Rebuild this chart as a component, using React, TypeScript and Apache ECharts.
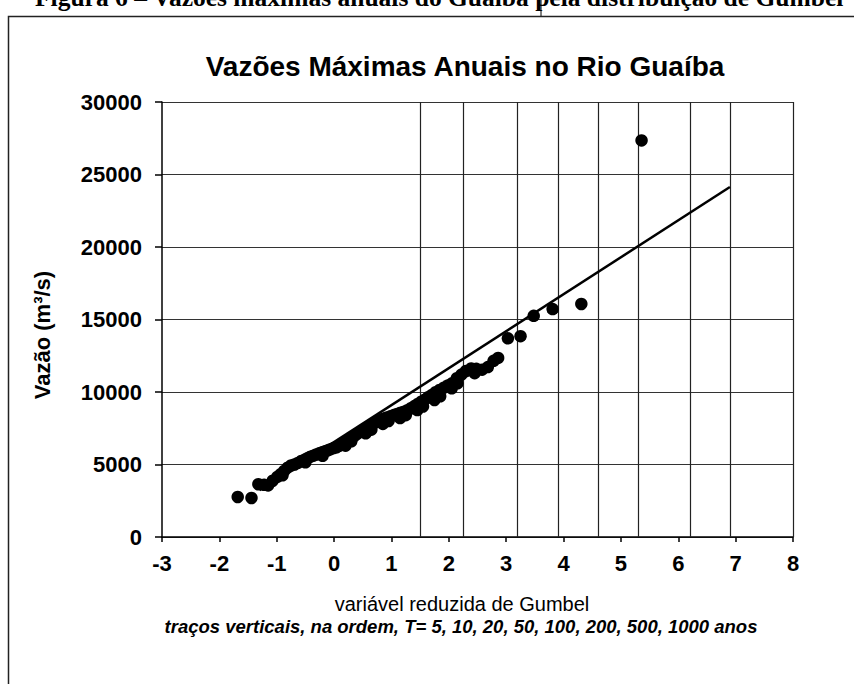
import React, { useEffect, useRef } from "react";
import * as echarts from "echarts";

const captionText = "Figura 6 – Vazões máximas anuais do Guaíba pela distribuição de Gumbel";
const titleText = "Vazões Máximas Anuais no Rio Guaíba";
const yAxisName = "Vazão (m³/s)";
const xAxisName = "variável reduzida de Gumbel";
const noteText = "traços verticais, na ordem, T= 5, 10, 20, 50, 100, 200, 500, 1000 anos";

// Gumbel reduced variate of each observation
const gumbelX = [
  -1.68, -1.44, -1.32, -1.22, -1.15, -1.07, -0.99, -0.93, -0.87, -0.81,
  -0.75, -0.69, -0.63, -0.57, -0.51, -0.46, -0.41, -0.36, -0.31, -0.26,
  -0.21, -0.16, -0.11, -0.06, -0.01, 0.04, 0.09, 0.14, 0.19, 0.24,
  0.29, 0.34, 0.39, 0.44, 0.49, 0.54, 0.59, 0.64, 0.69, 0.74,
  0.8, 0.86, 0.92, 0.98, 1.04, 1.1, 1.16, 1.22, 1.28, 1.34,
  1.4, 1.46, 1.52, 1.58, 1.64, 1.7, 1.77, 1.84, 1.91, 1.98,
  2.06, 2.14, 2.22, 2.3, 2.39, 2.48, 2.58, 2.68, 2.78, 2.86,
  3.03, 3.25, 3.48, 3.81, 4.31, 5.36,
  -0.9, -0.5, -0.2, 0.2, 0.3, 0.55, 0.65, 0.85, 0.95, 1.15,
  1.25, 1.45, 1.55, 1.75, 1.85, 2.05, 2.15, 2.45,
];
// Annual maximum flow (m³/s)
const flowY = [
  2760, 2690, 3640, 3600, 3560, 3880, 4150, 4330, 4560, 4780,
  4930, 5000, 5110, 5240, 5340, 5440, 5540, 5610, 5690, 5770,
  5840, 5910, 5980, 6060, 6130, 6190, 6280, 6420, 6540, 6680,
  6820, 6930, 7080, 7210, 7330, 7460, 7580, 7690, 7830, 7970,
  8060, 8160, 8240, 8320, 8410, 8490, 8570, 8640, 8740, 8880,
  9030, 9180, 9330, 9470, 9640, 9790, 9990, 10140, 10290, 10440,
  10610, 10950, 11200, 11450, 11620, 11600, 11540, 11720, 12150, 12350,
  13700, 13850, 15250, 15720, 16070, 27350,
  4250, 5150, 5600, 6300, 6600, 7150, 7400, 7800, 8000, 8200,
  8400, 8750, 9000, 9450, 9700, 10250, 10600, 11300,
];

// fitted Gumbel line
const fitX = [-1.3, 6.9];
const fitY = [3234, 24136];

// vertical strokes (return periods)
const returnPeriodLines = [1.5, 2.25, 3.2, 3.9, 4.6, 5.3, 6.21, 6.91];
const plotRightEdge = 8;

const SANS = "'Liberation Sans', Arial, Helvetica, sans-serif";
const SERIF = "'Liberation Serif', 'Times New Roman', serif";

export default function App() {
  const ref = useRef<HTMLDivElement>(null);

  useEffect(() => {
    if (!ref.current) return;
    const chart = echarts.init(ref.current, null, { renderer: "svg" });

    const points = gumbelX.map((x, i) => [x, flowY[i]]);
    const fit = fitX.map((x, i) => [x, fitY[i]]);
    const vLines = [...returnPeriodLines, plotRightEdge].map((v) => ({ xAxis: v }));

    chart.setOption({
      animation: false,
      backgroundColor: "#ffffff",
      grid: { left: 162, right: 61, top: 102, bottom: 147, containLabel: false },
      xAxis: {
        type: "value",
        min: -3,
        max: 8,
        interval: 1,
        axisLine: { show: true, onZero: false, lineStyle: { color: "#000", width: 1.5 } },
        axisTick: { show: true, inside: false, length: 5, lineStyle: { color: "#000", width: 1.5 } },
        axisLabel: {
          color: "#000",
          fontFamily: SANS,
          fontWeight: "bold",
          fontSize: 22,
          margin: 15,
          formatter: (v: number) => String(v),
        },
        splitLine: { show: false },
      },
      yAxis: {
        type: "value",
        min: 0,
        max: 30000,
        interval: 5000,
        axisLine: { show: true, onZero: false, lineStyle: { color: "#000", width: 1.5 } },
        axisTick: { show: true, inside: false, length: 7, lineStyle: { color: "#000", width: 1.5 } },
        axisLabel: {
          color: "#000",
          fontFamily: SANS,
          fontWeight: "bold",
          fontSize: 22,
          margin: 20,
          formatter: (v: number) => String(v),
        },
        splitLine: { show: true, lineStyle: { color: "#333", width: 1.2 } },
      },
      series: [
        {
          type: "scatter",
          data: points,
          symbol: "circle",
          symbolSize: 12.5,
          itemStyle: { color: "#000", opacity: 1 },
          z: 3,
          silent: true,
        },
        {
          type: "line",
          data: fit,
          showSymbol: false,
          symbol: "none",
          lineStyle: { color: "#000", width: 2.5 },
          z: 4,
          silent: true,
          markLine: {
            silent: true,
            symbol: ["none", "none"],
            label: { show: false },
            lineStyle: { type: "solid", color: "#222", width: 1.2 },
            data: vLines,
            z: 2,
          },
        },
      ],
      graphic: [
        {
          type: "text",
          x: 35,
          y: 10,
          style: {
            text: captionText,
            font: `bold 25.5px ${SERIF}`,
            fill: "#000",
            align: "left",
            verticalAlign: "bottom",
          },
        },
        {
          type: "line",
          shape: { x1: 541, y1: 0, x2: 541, y2: 16 },
          style: { stroke: "#000", lineWidth: 1 },
        },
        {
          type: "rect",
          shape: { x: 8.5, y: 16.5, width: 900, height: 800 },
          style: { fill: "none", stroke: "#222", lineWidth: 1.5 },
        },
        {
          type: "text",
          x: 465,
          y: 66,
          style: {
            text: titleText,
            font: `bold 28px ${SANS}`,
            fill: "#000",
            align: "center",
            verticalAlign: "middle",
          },
        },
        {
          type: "text",
          x: 42,
          y: 335,
          rotation: Math.PI / 2,
          style: {
            text: yAxisName,
            font: `bold 22px ${SANS}`,
            fill: "#000",
            align: "center",
            verticalAlign: "middle",
          },
        },
        {
          type: "text",
          x: 462,
          y: 604,
          style: {
            text: xAxisName,
            font: `20px ${SANS}`,
            fill: "#000",
            align: "center",
            verticalAlign: "middle",
          },
        },
        {
          type: "text",
          x: 461,
          y: 626,
          style: {
            text: noteText,
            font: `italic bold 18.5px ${SANS}`,
            fill: "#000",
            align: "center",
            verticalAlign: "middle",
          },
        },
      ],
    });

    return () => chart.dispose();
  }, []);

  return (
    <div
      ref={ref}
      style={{ position: "absolute", left: 0, top: 0, width: 854, height: 684 }}
    />
  );
}
